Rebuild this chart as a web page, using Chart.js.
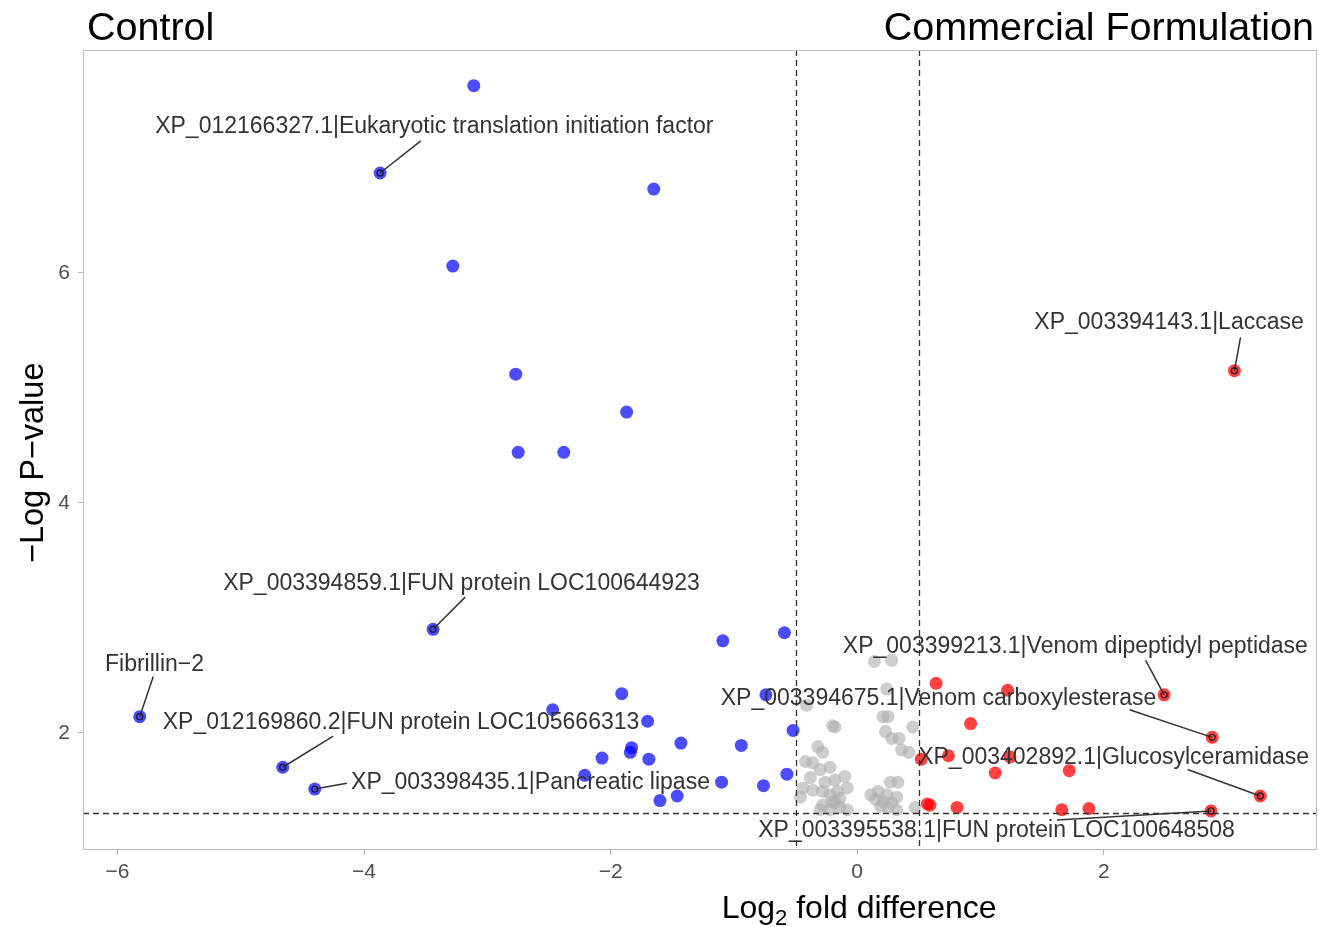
<!DOCTYPE html>
<html>
<head>
<meta charset="utf-8">
<title>Volcano plot</title>
<script src="https://cdn.jsdelivr.net/npm/chart.js@4.4.1/dist/chart.umd.min.js"></script>
<style>
  html, body { margin: 0; padding: 0; background: #ffffff; overflow: hidden; }
  canvas { display: block; }
</style>
</head>
<body>
<canvas id="volcano" width="1319" height="927"></canvas>
<script>
/* Proteins higher in Control (log2 FC, -log10 p). */
const downX = [-3.11, -3.87, -1.65, -3.28, -2.77, -1.87, -2.75, -2.38, -3.44, -1.09, -0.59, -1.91, -2.47, -1.70, -0.74, -0.52,
               -1.43, -0.94, -1.83, -1.84, -2.07, -1.69, -2.21, -1.10, -0.76, -0.57, -1.46, -1.60, -5.82, -4.66, -4.40];
const downY = [7.63, 6.87, 6.73, 6.06, 5.12, 4.79, 4.44, 4.44, 2.90, 2.80, 2.87, 2.34, 2.20, 2.10, 2.33, 2.02,
               1.91, 1.89, 1.87, 1.83, 1.78, 1.77, 1.63, 1.57, 1.54, 1.64, 1.45, 1.41, 2.14, 1.70, 1.51];

/* Proteins higher in the commercial formulation. */
const upX = [0.64, 1.22, 2.49, 0.92, 2.88, 0.74, 0.52, 1.24, 1.12, 1.72, 3.27, 0.57, 0.59, 0.81, 1.66, 1.88, 2.87, 3.06];
const upY = [2.43, 2.37, 2.33, 2.08, 1.96, 1.80, 1.77, 1.79, 1.65, 1.67, 1.45, 1.38, 1.37, 1.35, 1.33, 1.34, 1.32, 5.15];

/* Not significant. */
const nsX = [0.14, 0.28, 0.24, -0.41, 0.21, 0.25, -0.20, -0.18, 0.23, 0.45, 0.28, 0.34, 0.36, 0.42, -0.32, -0.28,
             -0.42, -0.36, -0.30, -0.22, -0.38, -0.26, -0.18, -0.10, -0.08, -0.44, -0.36, -0.46, -0.28, -0.22, -0.16, -0.14,
             -0.20, -0.28, -0.30, -0.22, -0.14, -0.08, -0.18, 0.27, 0.33, 0.11, 0.17, 0.24, 0.32, 0.15, 0.21, 0.28,
             0.19, 0.25, 0.47, 0.32];
const nsY = [2.62, 2.63, 2.38, 2.24, 2.14, 2.14, 2.06, 2.05, 2.01, 2.05, 1.95, 1.95, 1.85, 1.83, 1.88, 1.83,
             1.75, 1.74, 1.68, 1.70, 1.61, 1.57, 1.59, 1.62, 1.52, 1.52, 1.50, 1.44, 1.49, 1.46, 1.49, 1.43,
             1.40, 1.37, 1.33, 1.33, 1.35, 1.33, 1.39, 1.57, 1.57, 1.46, 1.49, 1.46, 1.44, 1.42, 1.40, 1.39,
             1.36, 1.35, 1.35, 1.33];

/* Named proteins: which series and index they point at. */
const labelNames = [
  "XP_012166327.1|Eukaryotic translation initiation factor",
  "XP_003394859.1|FUN protein LOC100644923",
  "Fibrillin\u22122",
  "XP_012169860.2|FUN protein LOC105666313",
  "XP_003398435.1|Pancreatic lipase",
  "XP_003394143.1|Laccase",
  "XP_003399213.1|Venom dipeptidyl peptidase",
  "XP_003394675.1|Venom carboxylesterase",
  "XP_003402892.1|Glucosylceramidase",
  "XP_003395538.1|FUN protein LOC100648508"
];
const labelSeries = [1, 1, 1, 1, 1, 2, 2, 2, 2, 2];
const labelIndex  = [1, 8, 28, 29, 30, 17, 2, 4, 10, 16];

const xTicks = [-6, -4, -2, 0, 2];
const yTicks = [2, 4, 6];

const fcCut = 0.5;
const pCut = -Math.log10(0.05);

/* Where each name sits and where its leader line stops, in axis units. */
const labelPlace = [
  { tx: -3.43, ty: 7.27, lx: -3.54, ly: 7.15 },
  { tx: -3.21, ty: 3.30, lx: -3.18, ly: 3.18 },
  { tx: -5.70, ty: 2.59, lx: -5.71, ly: 2.49 },
  { tx: -3.70, ty: 2.09, lx: -4.25, ly: 1.97 },
  { tx: -2.65, ty: 1.565, lx: -4.14, ly: 1.56 },
  { tx: 2.53, ty: 5.565, lx: 3.11, ly: 5.44 },
  { tx: 1.77, ty: 2.75, lx: 2.34, ly: 2.63 },
  { tx: 0.66, ty: 2.30, lx: 2.21, ly: 2.20 },
  { tx: 2.08, ty: 1.783, lx: 2.68, ly: 1.68 },
  { tx: 1.13, ty: 1.148, lx: 1.62, ly: 1.24 }
];

const FONT = '"Liberation Sans", Arial, Helvetica, sans-serif';

const toPoints = (xs, ys) => xs.map((x, i) => ({ x: x, y: ys[i] }));

const volcanoDecor = {
  id: "volcanoDecor",
  afterDatasetsDraw(chart) {
    const ctx = chart.ctx;
    const xs = chart.scales.x;
    const ys = chart.scales.y;
    const area = chart.chartArea;

    /* Cut-off lines. */
    ctx.save();
    ctx.strokeStyle = "#333333";
    ctx.lineWidth = 1.3;
    ctx.setLineDash([6, 4]);
    [-fcCut, fcCut].forEach(v => {
      const px = Math.round(xs.getPixelForValue(v)) + 0.5;
      ctx.beginPath();
      ctx.moveTo(px, area.top);
      ctx.lineTo(px, area.bottom);
      ctx.stroke();
    });
    const py = Math.round(ys.getPixelForValue(pCut)) + 0.5;
    ctx.beginPath();
    ctx.moveTo(area.left, py);
    ctx.lineTo(area.right, py);
    ctx.stroke();
    ctx.restore();

    /* Leader lines, point rings and names. */
    ctx.save();
    labelNames.forEach((name, i) => {
      const meta = chart.getDatasetMeta(labelSeries[i]);
      const el = meta.data[labelIndex[i]];
      const place = labelPlace[i];
      const ex = xs.getPixelForValue(place.lx);
      const ey = ys.getPixelForValue(place.ly);

      ctx.strokeStyle = "#333333";
      ctx.lineWidth = 1.5;
      ctx.setLineDash([]);
      ctx.beginPath();
      ctx.moveTo(el.x, el.y);
      ctx.lineTo(ex, ey);
      ctx.stroke();

      ctx.strokeStyle = "rgba(20,20,30,0.85)";
      ctx.lineWidth = 1.4;
      ctx.beginPath();
      ctx.arc(el.x, el.y, 3, 0, Math.PI * 2);
      ctx.stroke();

      ctx.fillStyle = "#333333";
      ctx.font = "23px " + FONT;
      ctx.textAlign = "center";
      ctx.textBaseline = "middle";
      ctx.fillText(name, xs.getPixelForValue(place.tx), ys.getPixelForValue(place.ty));
    });
    ctx.restore();

    /* Panel border. */
    ctx.save();
    ctx.strokeStyle = "#bdbdbd";
    ctx.lineWidth = 1;
    ctx.strokeRect(area.left + 0.5, area.top + 0.5, area.width - 1, area.height - 1);
    ctx.restore();
  },
  afterDraw(chart) {
    const ctx = chart.ctx;
    const area = chart.chartArea;
    ctx.save();

    /* Group headings. */
    ctx.fillStyle = "#000000";
    ctx.font = "39.5px " + FONT;
    ctx.textBaseline = "alphabetic";
    ctx.textAlign = "left";
    ctx.fillText("Control", area.left + 4, 40);
    ctx.textAlign = "right";
    ctx.fillText("Commercial Formulation", area.right - 3, 40);

    /* x title with subscript. */
    const big = "32px " + FONT;
    const small = "22px " + FONT;
    ctx.font = big;
    const w1 = ctx.measureText("Log").width;
    const w3 = ctx.measureText(" fold difference").width;
    ctx.font = small;
    const w2 = ctx.measureText("2").width;
    const cx = area.left + area.width * 0.629;
    let x0 = cx - (w1 + w2 + w3) / 2;
    const base = 918;
    ctx.textAlign = "left";
    ctx.font = big;
    ctx.fillText("Log", x0, base);
    ctx.font = small;
    ctx.fillText("2", x0 + w1, base + 7);
    ctx.font = big;
    ctx.fillText(" fold difference", x0 + w1 + w2, base);

    /* y title. */
    ctx.translate(34, area.top + area.height * 0.516);
    ctx.rotate(-Math.PI / 2);
    ctx.font = "32.5px " + FONT;
    ctx.textAlign = "center";
    ctx.textBaseline = "middle";
    ctx.fillText("\u2212Log P\u2212value", 0, 0);
    ctx.restore();
  }
};

new Chart(
  document.getElementById("volcano"),
  {
    type: "scatter",
    data: {
      datasets: [
        {
          label: "NS",
          data: toPoints(nsX, nsY),
          backgroundColor: "rgba(175,175,175,0.62)",
          borderWidth: 0,
          pointRadius: 6.5,
          pointHoverRadius: 6.5,
        },
        {
          label: "Control",
          data: toPoints(downX, downY),
          backgroundColor: "rgba(0,0,255,0.7)",
          borderWidth: 0,
          pointRadius: 6.5,
          pointHoverRadius: 6.5,
        },
        {
          label: "Commercial Formulation",
          data: toPoints(upX, upY),
          backgroundColor: "rgba(255,0,0,0.75)",
          borderWidth: 0,
          pointRadius: 6.5,
          pointHoverRadius: 6.5,
        },
      ],
    },
    options: {
      responsive: false,
      animation: false,
      layout: { autoPadding: false, padding: { top: 50, right: 2, left: 0, bottom: 0 } },
      plugins: {
        legend: { display: false },
        tooltip: { enabled: false },
      },
      scales: {
        x: {
          type: "linear",
          min: -6.28,
          max: 3.73,
          afterBuildTicks: (scale) => { scale.ticks = xTicks.map(v => ({ value: v })); },
          afterFit: (scale) => { scale.height = 77; },
          ticks: {
            color: "#4d4d4d",
            font: { family: FONT, size: 21 },
            padding: 5,
            callback: (v) => (v < 0 ? "\u2212" + Math.abs(v) : String(v)),
          },
          grid: { drawOnChartArea: false, drawTicks: true, tickLength: 5, color: "#b3b3b3" },
          border: { display: false },
        },
        y: {
          type: "linear",
          min: 0.98,
          max: 7.94,
          afterBuildTicks: (scale) => { scale.ticks = yTicks.map(v => ({ value: v })); },
          afterFit: (scale) => { scale.width = 83; },
          ticks: {
            color: "#4d4d4d",
            font: { family: FONT, size: 21 },
            padding: 8,
          },
          grid: { drawOnChartArea: false, drawTicks: true, tickLength: 5, color: "#b3b3b3" },
          border: { display: false },
        },
      },
    },
    plugins: [volcanoDecor],
  }
);
</script>
</body>
</html>
